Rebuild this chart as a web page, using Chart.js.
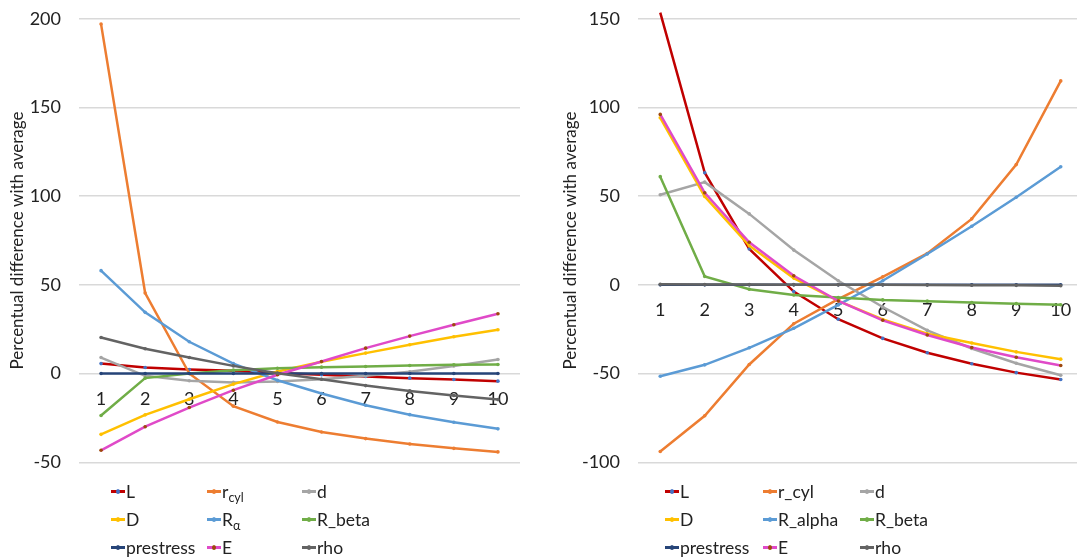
<!DOCTYPE html>
<html>
<head>
<meta charset="utf-8">
<script src="https://cdn.jsdelivr.net/npm/chart.js@4/dist/chart.umd.min.js"></script>
<style>
  html, body { margin: 0; padding: 0; background: #fff; overflow: hidden; }
  body { width: 1077px; height: 558px; position: relative; font-family: Lato, "Open Sans", sans-serif; }
  canvas { position: absolute; top: -10px; }
  #leftChart { left: 0; }
  #rightChart { left: 540px; }
  .legend { position: absolute; left: 0; top: 0; width: 1077px; height: 558px; pointer-events: none; }
  .item { position: absolute; height: 26px; display: flex; align-items: center; font-size: 17.5px; color: #222; white-space: nowrap; }
  .swatch { position: relative; width: 14px; height: 3px; margin-right: 1px; }
  .swatch i { position: absolute; left: 5px; top: -1px; width: 4px; height: 5px; border-radius: 50%; }
  sub { font-size: 12.5px; vertical-align: -4px; line-height: 0; }
</style>
</head>
<body>
<canvas id="leftChart" width="540" height="501"></canvas>
<canvas id="rightChart" width="550" height="501"></canvas>
<div class="legend" id="legend"></div>
<script>
// Categories along the horizontal axis
const categories = ['1', '2', '3', '4', '5', '6', '7', '8', '9', '10'];

// Series names (left panel uses subscripts, right panel plain names)
const leftNames = ['L', 'r<sub>cyl</sub>', 'd', 'D', 'R<sub>α</sub>', 'R_beta', 'prestress', 'E', 'rho'];
const rightNames = ['L', 'r_cyl', 'd', 'D', 'R_alpha', 'R_beta', 'prestress', 'E', 'rho'];

// Left panel values (percent difference with average)
const leftL         = [5.6, 3.4, 2.3, 1.5, 0.3, -0.7, -1.7, -2.6, -3.4, -4.3];
const leftRcyl      = [197, 45.4, 0, -18.4, -27.3, -33, -36.7, -39.7, -42.2, -44.2];
const leftD_small   = [9, -1.3, -4.1, -5, -4.5, -3.2, -1.3, 1, 4.3, 7.9];
const leftD_big     = [-34.3, -23.3, -14.5, -6, 1.1, 6.6, 11.5, 16.2, 20.7, 24.7];
const leftRalpha    = [58, 34.5, 17.9, 5.6, -3.8, -11.3, -17.9, -23.2, -27.5, -31.2];
const leftRbeta     = [-23.7, -2.6, 0, 1.9, 3, 3.6, 4, 4.5, 4.9, 5.1];
const leftPrestress = [0, 0, 0, 0, 0, 0, 0, 0, 0, 0];
const leftE         = [-43.3, -30, -19.2, -9.4, -0.7, 6.8, 14.3, 21.1, 27.5, 33.7];
const leftRho       = [20.3, 14, 9, 4.3, 0.2, -3.2, -6.8, -9.8, -12.4, -14.7];

// Right panel values
const rightL         = [153.5, 63.2, 20.2, -3.8, -19.4, -30.2, -38.3, -44.5, -49.5, -53.4];
const rightRcyl      = [-94, -73.8, -44.9, -21.9, -8.1, 4.5, 17.7, 37.2, 67.8, 115];
const rightD_small   = [50.8, 57.9, 40, 19.6, 2.3, -12.5, -25.7, -35.9, -44.2, -51];
const rightD_big     = [94.2, 49.8, 22.1, 3.8, -9, -19.5, -27.6, -32.8, -37.8, -41.9];
const rightRalpha    = [-51.5, -45.1, -35.5, -24.5, -11.3, 2.3, 17.4, 33, 49.4, 66.6];
const rightRbeta     = [61, 4.7, -2.5, -5.7, -7.2, -8.5, -9.2, -10, -10.6, -11.2];
const rightPrestress = [0, 0, 0, 0, 0, 0, 0, 0, 0, 0];
const rightE         = [96.1, 51.9, 24, 5.1, -9.1, -20, -28.3, -35.3, -40.8, -45.5];
const rightRho       = [0.3, 0.2, 0.2, 0.1, 0, 0, -0.1, -0.2, -0.3, -0.5];

// Line and marker colours per series
const lineColors   = ['#C00000', '#ED7D31', '#A5A5A5', '#FFC000', '#5B9BD5', '#70AD47', '#264478', '#E04AC8', '#636363'];
const markerColors = ['#4472C4', '#ED7D31', '#A5A5A5', '#FFC000', '#5B9BD5', '#70AD47', '#264478', '#9E480E', '#636363'];

const axisTitle = 'Percentual difference with average';
const textColor = '#222';
const fontFamily = 'Lato, "Open Sans", sans-serif';

function buildDatasets(names, series) {
  return series.map((values, i) => ({
    label: names[i].replace(/<[^>]+>/g, ''),
    data: values,
    borderColor: lineColors[i],
    backgroundColor: markerColors[i],
    pointBackgroundColor: markerColors[i],
    pointBorderColor: markerColors[i],
    pointRadius: 1.8,
    pointBorderWidth: 0,
    borderWidth: 2.5,
    tension: 0,
    fill: false,
    clip: false,
    order: series.length - i
  }));
}

function makeChart(id, names, series, yMin, yMax, padLeft, axisWidth, padRight) {
  return new Chart(document.getElementById(id), {
    type: 'line',
    data: { labels: categories, datasets: buildDatasets(names, series) },
    options: {
      responsive: false,
      animation: false,
      devicePixelRatio: 1,
      layout: { padding: { left: padLeft, right: padRight, top: 8, bottom: 9 } },
      plugins: { legend: { display: false }, tooltip: { enabled: false } },
      scales: {
        x: {
          type: 'category',
          position: { y: 0 },
          offset: true,
          grid: { display: false, drawTicks: false },
          border: { display: false },
          ticks: { color: textColor, font: { family: fontFamily, size: 18 }, padding: 15, maxRotation: 0, autoSkip: false },
          // the category axis sits on the zero line, so it takes no room in the layout
          afterFit(scale) { scale.height = 0; }
        },
        y: {
          position: 'left',
          min: yMin,
          max: yMax,
          grid: { color: '#D9D9D9', lineWidth: 1.4, drawTicks: false },
          border: { display: false },
          ticks: { stepSize: 50, color: textColor, font: { family: fontFamily, size: 18 }, padding: 18 },
          title: { display: true, text: axisTitle, color: textColor, font: { family: fontFamily, size: 17 }, padding: 0 },
          afterFit(scale) { scale.width = axisWidth; }
        }
      }
    }
  });
}

makeChart('leftChart', leftNames,
  [leftL, leftRcyl, leftD_small, leftD_big, leftRalpha, leftRbeta, leftPrestress, leftE, leftRho],
  -50, 200, 7, 72, 20);
makeChart('rightChart', rightNames,
  [rightL, rightRcyl, rightD_small, rightD_big, rightRalpha, rightRbeta, rightPrestress, rightE, rightRho],
  -100, 150, 20, 78, 7);

// Three-column legends under each panel
function buildLegend(names, columnsX, rowsY) {
  const host = document.getElementById('legend');
  names.forEach((name, i) => {
    const item = document.createElement('div');
    item.className = 'item';
    item.style.left = columnsX[i % 3] + 'px';
    item.style.top = (rowsY[Math.floor(i / 3)] - 13) + 'px';
    const sw = document.createElement('span');
    sw.className = 'swatch';
    sw.style.background = lineColors[i];
    const dot = document.createElement('i');
    dot.style.background = markerColors[i];
    sw.appendChild(dot);
    const label = document.createElement('span');
    label.innerHTML = name;
    item.appendChild(sw);
    item.appendChild(label);
    host.appendChild(item);
  });
}
buildLegend(leftNames, [111, 207, 302], [491, 519, 547]);
buildLegend(rightNames, [665, 763, 860], [491, 519, 547]);
</script>
</body>
</html>
